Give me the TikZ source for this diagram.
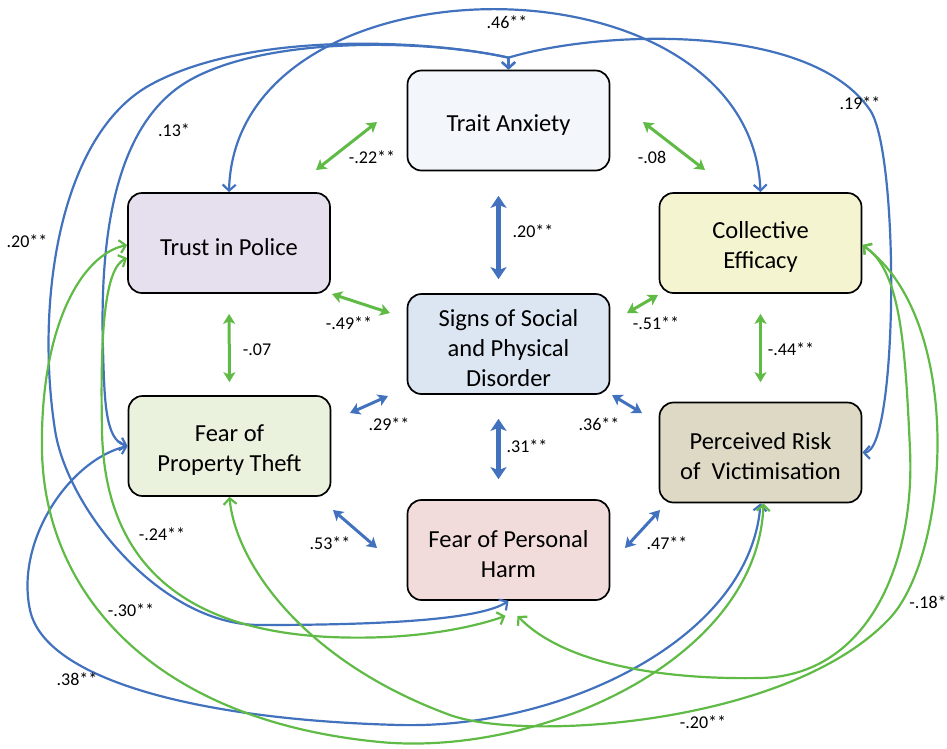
\documentclass[tikz,border=0pt]{standalone}
\usepackage{fontspec}
\setmainfont{Carlito}
\usetikzlibrary{arrows.meta}
\definecolor{bl}{RGB}{66,114,190}
\definecolor{gr}{RGB}{96,186,70}
\definecolor{fTA}{HTML}{F3F7FB}
\definecolor{fTP}{HTML}{E6E0EE}
\definecolor{fCE}{HTML}{F4F4D0}
\definecolor{fSD}{HTML}{DCE6F2}
\definecolor{fPT}{HTML}{EAF1DD}
\definecolor{fPR}{HTML}{DDD9C4}
\definecolor{fPH}{HTML}{F2DCDB}
\newcommand{\topstrut}{\rule{0pt}{25pt}}
\begin{document}
\begin{tikzpicture}[x=1pt,y=-1pt,
 box/.style={draw=black, line width=1.7pt, rounded corners=14pt, minimum width=202pt, minimum height=100pt, align=center, inner sep=0pt, font=\fontsize{24.5pt}{30pt}\selectfont, text=black},
 lab/.style={font=\fontsize{18pt}{21pt}\selectfont, inner sep=0pt, text=black},
 lcurve/.style={line width=2.2pt, <->, >={Straight Barb[length=6pt,width=13pt]}},
 sarrow/.style={line width=3pt, <->, >={Stealth[length=10pt,width=12pt,inset=2.5pt]}},
 barrow/.style={line width=4.8pt, <->, >={Stealth[length=12pt,width=16pt,inset=3pt]}},
]
\useasboundingbox (0,0) rectangle (947,748);
% boxes
\node[box, fill=fTA] (trait) at (508.5,120.5) {\topstrut Trait Anxiety};
\node[box, fill=fTP] (trust) at (229,243) {\topstrut Trust in Police};
\node[box, fill=fCE] (coll) at (760.5,243) {\topstrut Collective\\Efficacy};
\node[box, fill=fSD] (signs) at (508.5,344) {\topstrut Signs of Social\\and Physical\\Disorder};
\node[box, fill=fPT] (fprop) at (229.5,446) {\topstrut Fear of\\Property Theft};
\node[box, fill=fPR] (prisk) at (760.5,452.5) {\topstrut Perceived Risk\\of~~Victimisation};
\node[box, fill=fPH] (fharm) at (508.5,550) {\topstrut Fear of Personal\\Harm};
% long blue curves
\draw[lcurve, bl] (trust.north) .. controls (235,-50) and (750,-52) .. (coll.north);
\draw[lcurve, bl] (trait.north) -- ([yshift=12pt]trait.north) .. controls (600,30) and (810,22) .. (870,110) .. controls (900,154) and (898,452) .. (prisk.east);
\draw[lcurve, bl] (trait.north) -- ([yshift=12pt]trait.north) .. controls (430,40) and (250,30) .. (150,85) .. controls (60,135) and (35,300) .. (55,430) .. controls (67,508) and (160,625) .. (260,625) .. controls (380,625) and (480,620) .. (fharm.south);
\draw[lcurve, bl] (trait.north) -- ([yshift=12pt]trait.north) .. controls (430,40) and (270,35) .. (190,80) .. controls (110,125) and (100,250) .. (103,350) .. controls (104.5,400) and (105,440) .. (fprop.west);
\draw[lcurve, bl] (fprop.west) .. controls (70,460) and (15,540) .. (30,610) .. controls (45,680) and (200,720) .. (400,725) .. controls (560,729) and (750,640) .. (prisk.south);
% long green curves
\draw[lcurve, gr] ([yshift=-2pt]trust.west) .. controls (80,255) and (40,330) .. (42,450) .. controls (44,590) and (150,720) .. (380,742) .. controls (540,757) and (758,660) .. ([xshift=3pt]prisk.south);
\draw[lcurve, gr] ([yshift=-15pt]trust.west) .. controls (105,268) and (100,330) .. (102,430) .. controls (104,560) and (180,630) .. (330,637) .. controls (420,641) and (480,625) .. ([xshift=-3pt,yshift=-15pt]fharm.south);
\draw[lcurve, gr] (fprop.south) .. controls (235,560) and (300,660) .. (450,715) .. controls (525,742) and (790,725) .. (890,618) .. controls (950,553) and (965,320) .. ([yshift=-2pt]coll.east);
\draw[lcurve, gr] ([xshift=9pt,yshift=-15pt]fharm.south) .. controls (560,660) and (650,680) .. (760,678) .. controls (870,676) and (915,560) .. (910,450) .. controls (905,340) and (900,270) .. ([yshift=-2pt]coll.east);
% short arrows
\coordinate (a1s) at (316,170); \coordinate (a1e) at (377,122);
\coordinate (a2s) at (643,122); \coordinate (a2e) at (705,170);
\coordinate (a3s) at (332,294); \coordinate (a3e) at (390,313);
\coordinate (a4s) at (627,313); \coordinate (a4e) at (658,295);
\coordinate (a7s) at (350,413); \coordinate (a7e) at (388,396);
\coordinate (a8s) at (612,395); \coordinate (a8e) at (642,413);
\coordinate (a11s) at (333,510); \coordinate (a11e) at (377,548);
\coordinate (a12s) at (625,548); \coordinate (a12e) at (660,510);
\draw[sarrow, gr] (a1s) -- (a1e);
\draw[sarrow, gr] (a2s) -- (a2e);
\draw[sarrow, gr] (a3s) -- (a3e);
\draw[sarrow, gr] (a4s) -- (a4e);
\draw[sarrow, bl] (a7s) -- (a7e);
\draw[sarrow, bl] (a8s) -- (a8e);
\draw[sarrow, bl] (a11s) -- (a11e);
\draw[sarrow, bl] (a12s) -- (a12e);
\draw[sarrow, gr, shorten <=20pt, shorten >=13pt] (trust.south) -- (fprop.north);
\draw[sarrow, gr, shorten <=20pt, shorten >=19.5pt] (coll.south) -- (prisk.north);
\draw[barrow, bl, shorten <=24.5pt, shorten >=14pt] ([xshift=-10pt]trait.south) -- ([xshift=-10pt]signs.north);
\draw[barrow, bl, shorten <=24pt, shorten >=20pt] ([xshift=-10pt]signs.south) -- ([xshift=-10pt]fharm.north);
% labels
\node[lab] (l1) at (507,22) {.46**};
\node[lab] (l2) at (860,103) {.19**};
\node[lab] (l3) at (174,130) {.13*};
\node[lab] (l4) at (27,241) {.20**};
\node[lab] (l5) at (372,157) {-.22**};
\node[lab] (l6) at (652,157) {-.08};
\node[lab] (l7) at (533,231) {.20**};
\node[lab] (l8) at (349,323) {-.49**};
\node[lab] (l9) at (656,323) {-.51**};
\node[lab] (l10) at (257,350) {-.07};
\node[lab] (l11) at (791,349) {-.44**};
\node[lab] (l12) at (389,424) {.29**};
\node[lab] (l13) at (599,424) {.36**};
\node[lab] (l14) at (527,446) {.31**};
\node[lab] (l15) at (330,543) {.53**};
\node[lab] (l16) at (667,543) {.47**};
\node[lab] (l17) at (162,534) {-.24**};
\node[lab] (l18) at (131,610) {-.30**};
\node[lab] (l19) at (77,679) {.38**};
\node[lab] (l20) at (928,602) {-.18*};
\node[lab] (l21) at (703,722) {-.20**};
\end{tikzpicture}
\end{document}
